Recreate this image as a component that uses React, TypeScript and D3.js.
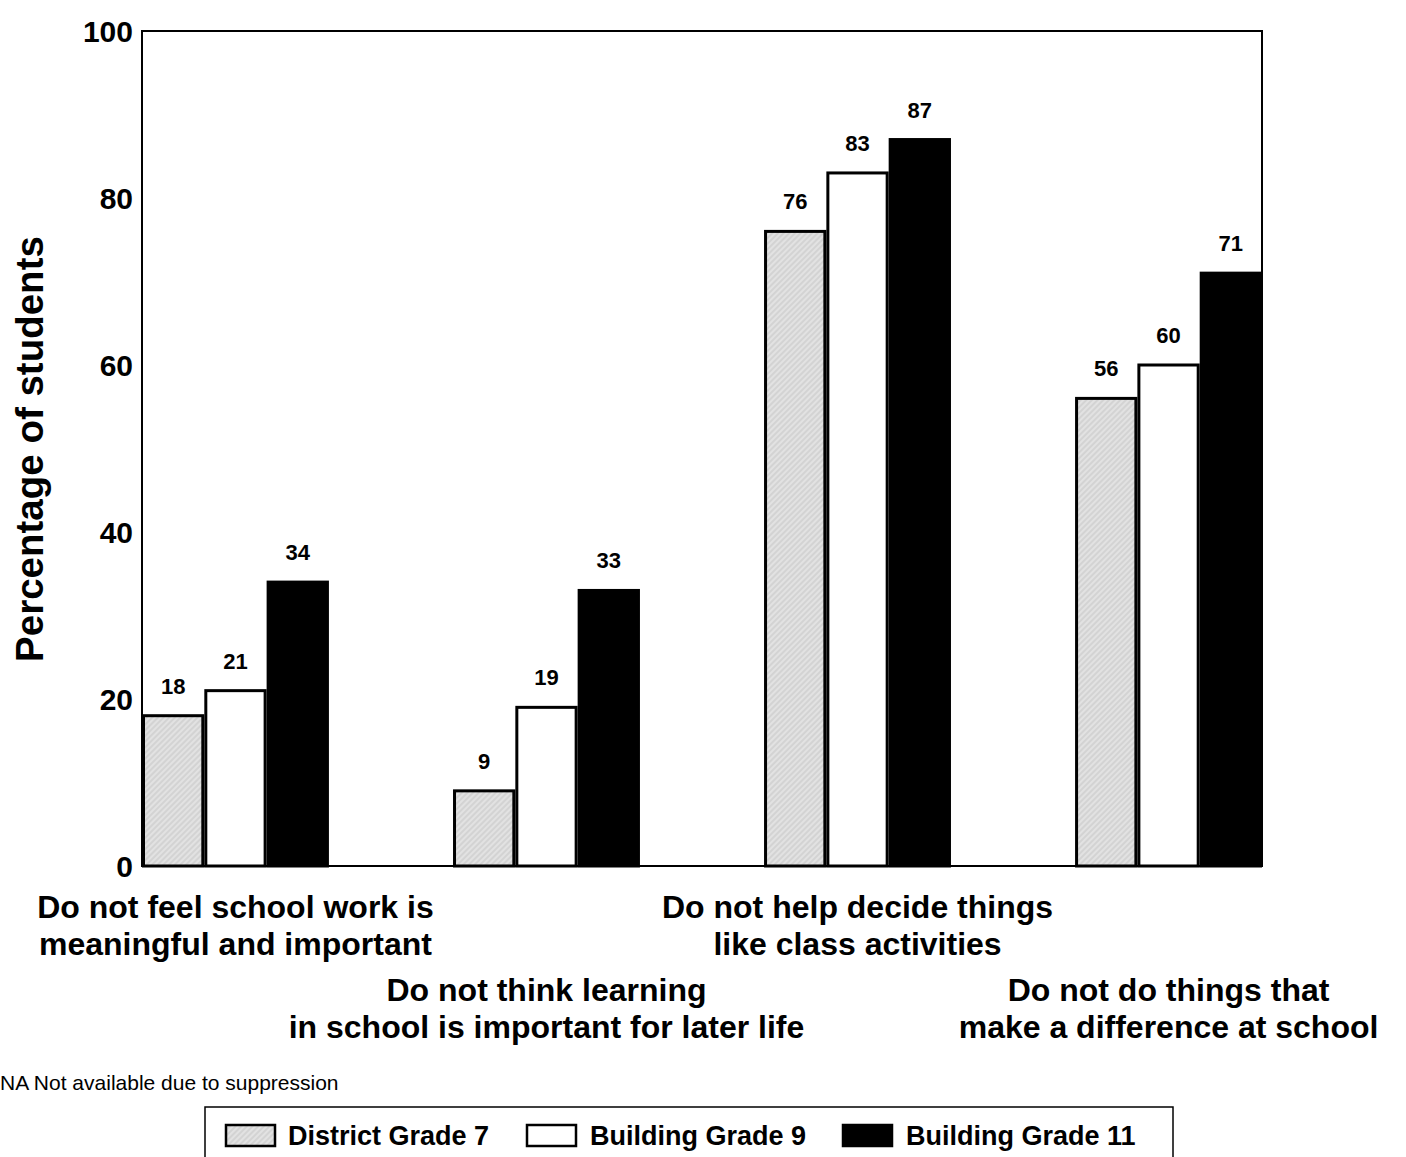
import React from "react";
import * as d3 from "d3";

// Survey items (two-line labels) and the share of students per group
const categories: string[][] = [
  ["Do not feel school work is", "meaningful and important"],
  ["Do not think learning", "in school is important for later life"],
  ["Do not help decide things", "like class activities"],
  ["Do not do things that", "make a difference at school"],
];
const district7: number[] = [18, 9, 76, 56];
const building9: number[] = [21, 19, 83, 60];
const building11: number[] = [34, 33, 87, 71];
const seriesNames: string[] = ["District Grade 7", "Building Grade 9", "Building Grade 11"];
const yTicks: number[] = [0, 20, 40, 60, 80, 100];

const W = 1406;
const H = 1157;
const plot = { left: 142, right: 1262, top: 31, bottom: 866 };
const FONT = "Arial, 'Liberation Sans', Helvetica, sans-serif";

export default function App() {
  const series = [district7, building9, building11];
  const fills = ["url(#hatch)", "#ffffff", "#000000"];

  const x0 = d3
    .scaleBand<number>()
    .domain(d3.range(categories.length))
    .range([plot.left, plot.right])
    .paddingInner(0.399)
    .paddingOuter(0);
  const x1 = d3
    .scaleBand<number>()
    .domain(d3.range(series.length))
    .range([0, x0.bandwidth()])
    .padding(0);
  const y = d3.scaleLinear().domain([0, 100]).range([plot.bottom, plot.top]);

  const legendItems = [
    { sx: 226, tx: 288 },
    { sx: 527, tx: 590 },
    { sx: 843, tx: 906 },
  ];

  return (
    <svg
      width={W}
      height={H}
      style={{ position: "absolute", left: 0, top: 0, background: "#fff" }}
      fontFamily={FONT}
    >
      <defs>
        <pattern
          id="hatch"
          width={4}
          height={4}
          patternUnits="userSpaceOnUse"
          patternTransform="rotate(45)"
        >
          <rect width={4} height={4} fill="#d3d3d3" />
          <line x1={1} y1={0} x2={1} y2={4} stroke="#ededed" strokeWidth={1.2} />
        </pattern>
      </defs>

      {/* bars */}
      {categories.map((_, ci) =>
        series.map((vals, si) => {
          const bx = (x0(ci) as number) + (x1(si) as number);
          const bw = x1.bandwidth();
          const top = y(vals[ci]);
          return (
            <g key={`b-${ci}-${si}`}>
              <rect
                x={bx + 1.5}
                y={top}
                width={bw - 3}
                height={y(0) - top}
                fill={fills[si]}
                stroke="#000"
                strokeWidth={3}
              />
              <text
                x={bx + bw / 2}
                y={top - 22}
                textAnchor="middle"
                fontSize={22}
                fontWeight="bold"
                fill="#000"
              >
                {vals[ci]}
              </text>
            </g>
          );
        })
      )}

      {/* plot frame */}
      <rect
        x={plot.left}
        y={plot.top}
        width={plot.right - plot.left}
        height={plot.bottom - plot.top}
        fill="none"
        stroke="#000"
        strokeWidth={2}
      />

      {/* y tick labels */}
      {yTicks.map((t) => (
        <text
          key={`t-${t}`}
          x={133}
          y={y(t) + 11}
          textAnchor="end"
          fontSize={30}
          fontWeight="bold"
          fill="#000"
        >
          {t}
        </text>
      ))}

      {/* y axis title */}
      <text
        transform={`translate(43, 449) rotate(-90)`}
        textAnchor="middle"
        fontSize={38.5}
        fontWeight="bold"
        fill="#000"
      >
        Percentage of students
      </text>

      {/* category labels, alternating rows */}
      {categories.map((lines, ci) => {
        const cx = (x0(ci) as number) + x0.bandwidth() / 2;
        const base = ci % 2 === 0 ? 918 : 1001;
        return (
          <text
            key={`c-${ci}`}
            textAnchor="middle"
            fontSize={32}
            fontWeight="bold"
            fill="#000"
          >
            {lines.map((ln, li) => (
              <tspan key={li} x={cx} y={base + li * 37}>
                {ln}
              </tspan>
            ))}
          </text>
        );
      })}

      {/* footnote */}
      <text x={0} y={1090} fontSize={21} fill="#000">
        NA Not available due to suppression
      </text>

      {/* legend */}
      <rect x={205} y={1107} width={968} height={70} fill="#fff" stroke="#000" strokeWidth={1.5} />
      {seriesNames.map((name, si) => (
        <g key={`l-${si}`}>
          <rect
            x={legendItems[si].sx}
            y={1125}
            width={49}
            height={21}
            fill={fills[si]}
            stroke="#000"
            strokeWidth={2.5}
          />
          <text
            x={legendItems[si].tx}
            y={1145}
            fontSize={27}
            fontWeight="bold"
            fill="#000"
          >
            {name}
          </text>
        </g>
      ))}
    </svg>
  );
}
